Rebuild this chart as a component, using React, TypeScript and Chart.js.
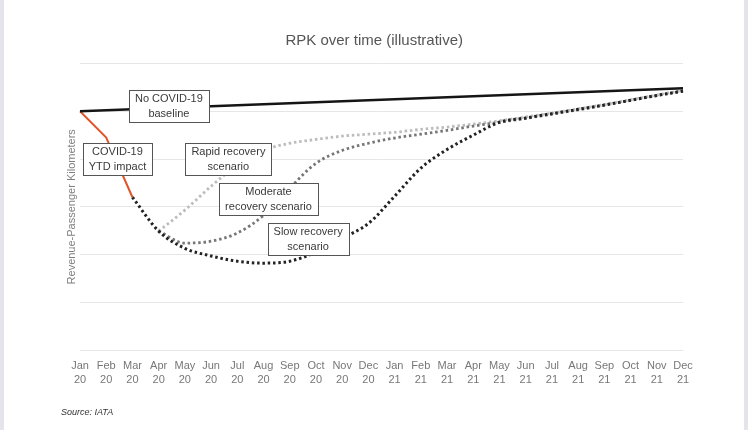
import React, { useEffect, useRef } from "react";
import { Chart, registerables } from "chart.js";

Chart.register(...registerables);

// ---- Data ----
const categories: string[][] = [
  ["Jan", "20"], ["Feb", "20"], ["Mar", "20"], ["Apr", "20"], ["May", "20"], ["Jun", "20"],
  ["Jul", "20"], ["Aug", "20"], ["Sep", "20"], ["Oct", "20"], ["Nov", "20"], ["Dec", "20"],
  ["Jan", "21"], ["Feb", "21"], ["Mar", "21"], ["Apr", "21"], ["May", "21"], ["Jun", "21"],
  ["Jul", "21"], ["Aug", "21"], ["Sep", "21"], ["Oct", "21"], ["Nov", "21"], ["Dec", "21"],
];

const baseline: (number | null)[] = [
  5.0, null, null, null, null, null, null, null, null, null, null, null,
  null, null, null, null, null, null, null, null, null, null, null, 5.48,
];

const ytdImpact: (number | null)[] = [
  5.0, 4.45, 3.2, null, null, null, null, null, null, null, null, null,
  null, null, null, null, null, null, null, null, null, null, null, null,
];

const slowRecovery: (number | null)[] = [
  null, null, 3.2, 2.49, 2.13, 1.97, 1.86, 1.82, 1.86, 2.05, 2.34, 2.65,
  3.22, 3.81, 4.2, 4.5, 4.77, 4.86, 4.95, 5.04, 5.13, 5.23, 5.33, 5.42,
];

const moderateRecovery: (number | null)[] = [
  null, null, null, 2.49, 2.24, 2.28, 2.45, 2.82, 3.39, 3.91, 4.18, 4.33,
  4.44, 4.52, 4.6, 4.69, 4.77, 4.85, 4.94, 5.03, 5.13, 5.23, 5.33, 5.43,
];

const rapidRecovery: (number | null)[] = [
  null, null, null, 2.49, 2.93, 3.43, 3.87, 4.18, 4.33, 4.41, 4.48, 4.52,
  4.56, 4.62, 4.67, 4.73, 4.8, 4.88, 4.96, 5.05, 5.14, 5.24, 5.34, 5.44,
];

// Annotation labels (anchored in data space: category index, value)
const annotationTexts: string[][] = [
  ["No COVID-19", "baseline"],
  ["COVID-19", "YTD impact"],
  ["Rapid recovery", "scenario"],
  ["Moderate", "recovery scenario"],
  ["Slow recovery", "scenario"],
];
const annotationX: number[] = [3.39, 1.43, 5.66, 7.19, 8.7];
const annotationY: number[] = [5.11, 4.0, 4.0, 3.16, 2.32];

const FONT = "'Liberation Sans', Arial, sans-serif";

const boxPlugin = {
  id: "boxLabels",
  afterDatasetsDraw(chart: any) {
    const { ctx, scales } = chart;
    const xs = scales.x;
    const ys = scales.y;
    ctx.save();
    ctx.font = `11px ${FONT}`;
    ctx.textAlign = "center";
    ctx.textBaseline = "middle";
    annotationTexts.forEach((lines, i) => {
      const cx = xs.getPixelForValue(annotationX[i]);
      const cy = ys.getPixelForValue(annotationY[i]);
      const tw = Math.max(...lines.map((l) => ctx.measureText(l).width));
      const w = Math.round(tw + 12);
      const h = 32;
      const x0 = Math.round(cx - w / 2) + 0.5;
      const y0 = Math.round(cy - h / 2) + 0.5;
      ctx.fillStyle = "#ffffff";
      ctx.fillRect(x0, y0, w, h);
      ctx.strokeStyle = "#555555";
      ctx.lineWidth = 1;
      ctx.strokeRect(x0, y0, w, h);
      ctx.fillStyle = "#3a3a3a";
      ctx.fillText(lines[0], cx, cy - 7);
      ctx.fillText(lines[1], cx, cy + 7.5);
    });
    ctx.restore();
  },
};

export default function App() {
  const canvasRef = useRef<HTMLCanvasElement | null>(null);

  useEffect(() => {
    if (!canvasRef.current) return;
    const chart = new Chart(canvasRef.current, {
      type: "line",
      data: {
        labels: categories,
        datasets: [
          {
            label: "No COVID-19 baseline",
            data: baseline,
            borderColor: "#151515",
            borderWidth: 2.5,
            pointRadius: 0,
            spanGaps: true,
            tension: 0,
          },
          {
            label: "COVID-19 YTD impact",
            data: ytdImpact,
            borderColor: "#e0562c",
            borderWidth: 2,
            pointRadius: 0,
            tension: 0,
          },
          {
            label: "Slow recovery scenario",
            data: slowRecovery,
            borderColor: "#222222",
            borderWidth: 3,
            borderDash: [2.5, 2.8],
            pointRadius: 0,
            cubicInterpolationMode: "monotone",
          },
          {
            label: "Moderate recovery scenario",
            data: moderateRecovery,
            borderColor: "#767676",
            borderWidth: 2.8,
            borderDash: [2.5, 2.8],
            pointRadius: 0,
            cubicInterpolationMode: "monotone",
          },
          {
            label: "Rapid recovery scenario",
            data: rapidRecovery,
            borderColor: "#bcbcbc",
            borderWidth: 2.8,
            borderDash: [2.5, 2.8],
            pointRadius: 0,
            cubicInterpolationMode: "monotone",
          },
        ],
      },
      options: {
        responsive: false,
        animation: false,
        devicePixelRatio: 1,
        layout: { padding: { left: 65.4, right: 65, top: 0, bottom: 34 } },
        plugins: {
          legend: { display: false },
          tooltip: { enabled: false },
          title: {
            display: true,
            text: "RPK over time (illustrative)",
            color: "#555555",
            font: { family: FONT, size: 15, weight: "normal" },
            padding: { top: 32, bottom: 13.5 },
          },
        },
        scales: {
          x: {
            grid: { display: false, drawTicks: false },
            border: { display: false },
            ticks: {
              autoSkip: false,
              maxRotation: 0,
              minRotation: 0,
              color: "#777777",
              padding: 9,
              font: { family: FONT, size: 11, lineHeight: 1.27 },
            },
          },
          y: {
            min: 0,
            max: 6,
            grid: { color: "#e6e6e6", lineWidth: 1, drawTicks: false },
            border: { display: false },
            ticks: { display: false, stepSize: 1 },
            title: {
              display: true,
              text: "Revenue-Passenger Kilometers",
              color: "#808080",
              font: { family: FONT, size: 11 },
              padding: { top: 0, bottom: 1.4 },
            },
          },
        },
      },
      plugins: [boxPlugin],
    });
    return () => chart.destroy();
  }, []);

  return (
    <div
      style={{
        position: "fixed",
        left: 0,
        top: 0,
        width: 748,
        height: 430,
        background: "#ffffff",
        overflow: "hidden",
      }}
    >
      <canvas
        ref={canvasRef}
        width={748}
        height={430}
        style={{ position: "absolute", left: 0, top: 0, width: 748, height: 430 }}
      />
      <div
        style={{
          position: "absolute",
          left: 0,
          top: 0,
          width: 4,
          height: 430,
          background: "#e4e4ea",
        }}
      />
      <div
        style={{
          position: "absolute",
          left: 744,
          top: 0,
          width: 4,
          height: 430,
          background: "#e4e4ea",
        }}
      />
      <div
        style={{
          position: "absolute",
          left: 61,
          top: 407,
          fontFamily: FONT,
          fontStyle: "italic",
          fontSize: 9,
          color: "#333333",
          whiteSpace: "nowrap",
        }}
      >
        Source: IATA
      </div>
    </div>
  );
}
